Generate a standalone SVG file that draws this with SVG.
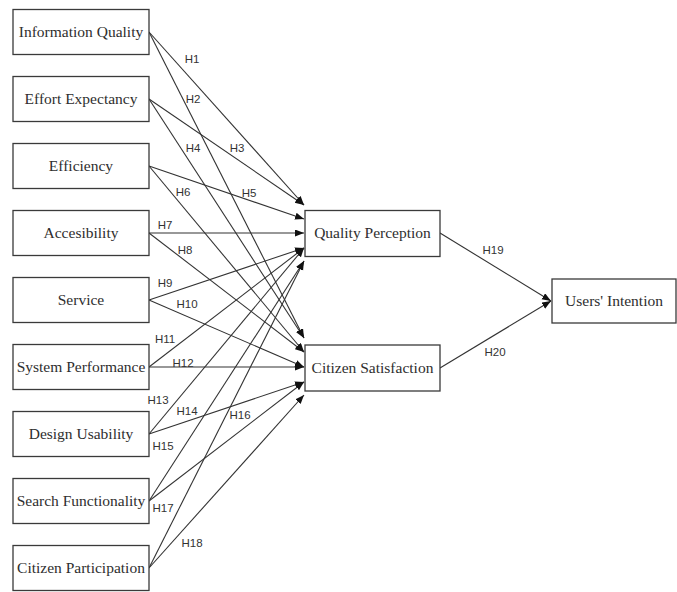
<svg xmlns="http://www.w3.org/2000/svg" width="677" height="592" viewBox="0 0 677 592">
<style>
.box{fill:#fff;stroke:#3a3a3a;stroke-width:1.3}
.nt{font-family:"Liberation Serif","Times New Roman",serif;font-size:15.5px;fill:#2e2e2e;text-anchor:middle}
.e{stroke:#333;stroke-width:1.1;fill:none;marker-end:url(#ah)}
.lb{font-family:"Liberation Sans",Arial,sans-serif;font-size:11.5px;fill:#333;text-anchor:middle}
</style>
<defs>
<marker id="ah" markerUnits="userSpaceOnUse" markerWidth="10" markerHeight="8" refX="9" refY="3.5" orient="auto">
<path d="M0,0 L9,3.5 L0,7 z" fill="#111"/>
</marker>
</defs>
<rect width="677" height="592" fill="#fff"/>
<g id="connectors">
<line class="e" x1="149" y1="32" x2="304" y2="205"/>
<line class="e" x1="149" y1="32" x2="304" y2="338"/>
<line class="e" x1="149" y1="99" x2="304" y2="205"/>
<line class="e" x1="149" y1="99" x2="304" y2="338"/>
<line class="e" x1="149" y1="166" x2="304" y2="219"/>
<line class="e" x1="149" y1="166" x2="304" y2="352"/>
<line class="e" x1="149" y1="233" x2="304" y2="233"/>
<line class="e" x1="149" y1="233" x2="304" y2="352"/>
<line class="e" x1="149" y1="300" x2="304" y2="248"/>
<line class="e" x1="149" y1="300" x2="304" y2="367"/>
<line class="e" x1="149" y1="367" x2="304" y2="248"/>
<line class="e" x1="149" y1="367" x2="304" y2="367"/>
<line class="e" x1="149" y1="434" x2="304" y2="248"/>
<line class="e" x1="149" y1="434" x2="304" y2="382"/>
<line class="e" x1="149" y1="501" x2="304" y2="261"/>
<line class="e" x1="149" y1="501" x2="304" y2="382"/>
<line class="e" x1="149" y1="568" x2="304" y2="261"/>
<line class="e" x1="149" y1="568" x2="304" y2="395"/>
<line class="e" x1="440" y1="233" x2="551" y2="301"/>
<line class="e" x1="440" y1="368" x2="551" y2="301"/>
<text class="lb" x="192" y="63">H1</text>
<text class="lb" x="193" y="103">H2</text>
<text class="lb" x="237" y="152">H3</text>
<text class="lb" x="193" y="152">H4</text>
<text class="lb" x="249" y="197">H5</text>
<text class="lb" x="183" y="196">H6</text>
<text class="lb" x="165" y="229">H7</text>
<text class="lb" x="185" y="254">H8</text>
<text class="lb" x="165" y="287">H9</text>
<text class="lb" x="187" y="308">H10</text>
<text class="lb" x="165" y="343">H11</text>
<text class="lb" x="183" y="367">H12</text>
<text class="lb" x="158" y="404">H13</text>
<text class="lb" x="187" y="415">H14</text>
<text class="lb" x="163" y="450">H15</text>
<text class="lb" x="240" y="419">H16</text>
<text class="lb" x="163" y="512">H17</text>
<text class="lb" x="192" y="547">H18</text>
<text class="lb" x="493" y="254">H19</text>
<text class="lb" x="495" y="356">H20</text>
</g>
<g id="n1"><rect class="box" x="13" y="9.5" width="136" height="45"/><text class="nt" x="81" y="37">Information Quality</text></g>
<g id="n2"><rect class="box" x="13" y="76.5" width="136" height="45"/><text class="nt" x="81" y="104">Effort Expectancy</text></g>
<g id="n3"><rect class="box" x="13" y="143.5" width="136" height="45"/><text class="nt" x="81" y="171">Efficiency</text></g>
<g id="n4"><rect class="box" x="13" y="210.5" width="136" height="45"/><text class="nt" x="81" y="238">Accesibility</text></g>
<g id="n5"><rect class="box" x="13" y="277.5" width="136" height="45"/><text class="nt" x="81" y="305">Service</text></g>
<g id="n6"><rect class="box" x="13" y="344.5" width="136" height="45"/><text class="nt" x="81" y="372">System Performance</text></g>
<g id="n7"><rect class="box" x="13" y="411.5" width="136" height="45"/><text class="nt" x="81" y="439">Design Usability</text></g>
<g id="n8"><rect class="box" x="13" y="478.5" width="136" height="45"/><text class="nt" x="81" y="506">Search Functionality</text></g>
<g id="n9"><rect class="box" x="13" y="545.5" width="136" height="45"/><text class="nt" x="81" y="573">Citizen Participation</text></g>
<g id="qp"><rect class="box" x="305" y="210.5" width="135" height="46"/><text class="nt" x="372.5" y="238">Quality Perception</text></g>
<g id="cs"><rect class="box" x="305" y="345" width="135" height="46"/><text class="nt" x="372.5" y="373">Citizen Satisfaction</text></g>
<g id="ui"><rect class="box" x="552" y="279" width="124" height="44"/><text class="nt" x="614" y="306">Users' Intention</text></g>
</svg>
